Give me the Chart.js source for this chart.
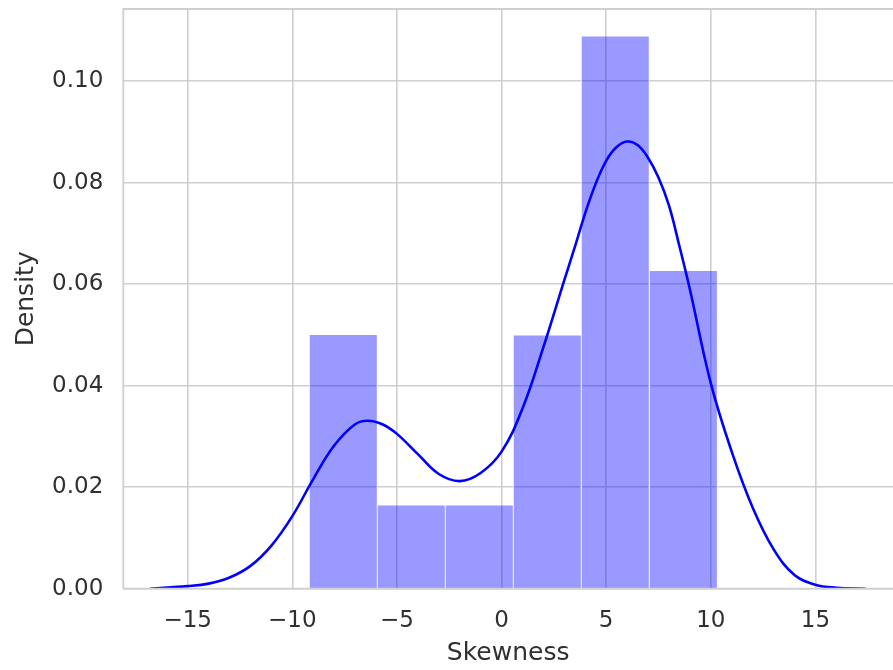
<!DOCTYPE html>
<html>
<head>
<meta charset="utf-8">
<script src="https://cdn.jsdelivr.net/npm/chart.js@4/dist/chart.umd.min.js"></script>
<style>
  html, body { margin: 0; padding: 0; background: #ffffff; overflow: hidden; }
  #wrap { width: 893px; height: 670px; }
</style>
</head>
<body>
<div id="wrap"><canvas id="c" width="893" height="670"></canvas></div>
<script>
// ---- data ----
const binEdges   = [-9.19, -5.94, -2.69, 0.56, 3.81, 7.06, 10.32];
const binDensity = [0.0500, 0.0164, 0.0164, 0.0499, 0.1088, 0.0626];

const kdeX = [-16.8, -15.0, -14.0, -13.0, -12.0, -11.0, -10.0, -9.0, -8.0, -7.0, -6.4, -5.7, -5.0, -4.0, -3.0, -2.0, -1.0, 0.0, 1.0, 2.0, 3.0, 3.5, 4.0, 4.5, 5.0, 5.5, 6.0, 6.5, 7.0, 7.5, 8.0, 8.5, 9.0, 10.0, 11.0, 12.0, 13.0, 14.0, 15.0, 16.0, 17.4];
const kdeY = [0.0000, 0.0005, 0.0010, 0.0022, 0.0045, 0.0085, 0.0143, 0.0216, 0.0282, 0.0324, 0.0331, 0.0324, 0.0305, 0.0265, 0.0226, 0.0212, 0.0228, 0.0270, 0.0355, 0.0476, 0.0608, 0.0673, 0.0740, 0.0798, 0.0843, 0.0870, 0.0881, 0.0874, 0.0849, 0.0810, 0.0755, 0.0675, 0.0590, 0.0405, 0.0270, 0.0160, 0.0078, 0.0027, 0.0008, 0.0002, 0.0000];

const xTicks = [-15, -10, -5, 0, 5, 10, 15];
const yTicks = [0.00, 0.02, 0.04, 0.06, 0.08, 0.10];
const xLabel = 'Skewness';
const yLabel = 'Density';

// ---- build library structures ----
const barData = binDensity.map((d, i) => ({ x: (binEdges[i] + binEdges[i + 1]) / 2, y: d }));
const kdeData = kdeX.map((x, i) => ({ x: x, y: kdeY[i] }));

const GRID = '#cfcfcf';
const TEXT = '#303030';
const FONT = "'DejaVu Sans', sans-serif";

const spines = {
  id: 'spines',
  afterDatasetsDraw(chart) {
    const { ctx, chartArea: a } = chart;
    ctx.save();
    ctx.strokeStyle = GRID;
    ctx.lineWidth = 1.8;
    ctx.beginPath();
    ctx.moveTo(a.left, a.bottom);
    ctx.lineTo(a.left, a.top);
    ctx.lineTo(a.right, a.top);
    ctx.moveTo(a.left, a.bottom);
    ctx.lineTo(a.right, a.bottom);
    ctx.stroke();
    ctx.restore();
  }
};

new Chart(document.getElementById('c'), {
  type: 'bar',
  data: {
    datasets: [
      {
        type: 'line',
        data: kdeData,
        borderColor: '#0000ff',
        borderWidth: 2.6,
        pointRadius: 0,
        fill: false,
        tension: 0.4,
        order: 0
      },
      {
        type: 'bar',
        data: barData,
        backgroundColor: 'rgba(0,0,255,0.4)',
        borderColor: 'rgba(255,255,255,0.85)',
        borderWidth: { top: 0, left: 0.8, right: 0.8, bottom: 0 },
        barPercentage: 1.0,
        categoryPercentage: 1.0,
        order: 1
      }
    ]
  },
  options: {
    responsive: false,
    devicePixelRatio: 1,
    animation: false,
    layout: { autoPadding: false, padding: { top: 9, left: 0, right: 0, bottom: 0 } },
    plugins: { legend: { display: false }, tooltip: { enabled: false } },
    scales: {
      x: {
        type: 'linear',
        min: -18.08,
        max: 18.71,
        offset: false,
        afterBuildTicks: s => { s.ticks = xTicks.map(v => ({ value: v })); },
        afterFit: s => { s.height = 81.3; s.paddingLeft = 0; s.paddingRight = 0; },
        grid: { color: GRID, lineWidth: 1.6, drawTicks: false, offset: false },
        border: { display: false },
        ticks: {
          padding: 19,
          color: TEXT,
          font: { family: FONT, size: 23 },
          maxRotation: 0,
          callback: v => String(v).replace('-', '\u2212')
        },
        title: {
          display: true,
          text: xLabel,
          color: TEXT,
          font: { family: FONT, size: 25 },
          padding: { top: 0, bottom: 1.5 }
        }
      },
      y: {
        type: 'linear',
        min: 0,
        max: 0.1142,
        afterBuildTicks: s => { s.ticks = yTicks.map(v => ({ value: v })); },
        afterFit: s => { s.width = 123.3; s.paddingTop = 0; s.paddingBottom = 0; },
        grid: { color: GRID, lineWidth: 1.6, drawTicks: false },
        border: { display: false },
        ticks: {
          padding: 20,
          color: TEXT,
          font: { family: FONT, size: 23 },
          callback: v => Number(v).toFixed(2)
        },
        title: {
          display: true,
          text: yLabel,
          color: TEXT,
          font: { family: FONT, size: 25 },
          padding: { top: 11, bottom: 0 }
        }
      }
    }
  },
  plugins: [spines]
});
</script>
</body>
</html>
